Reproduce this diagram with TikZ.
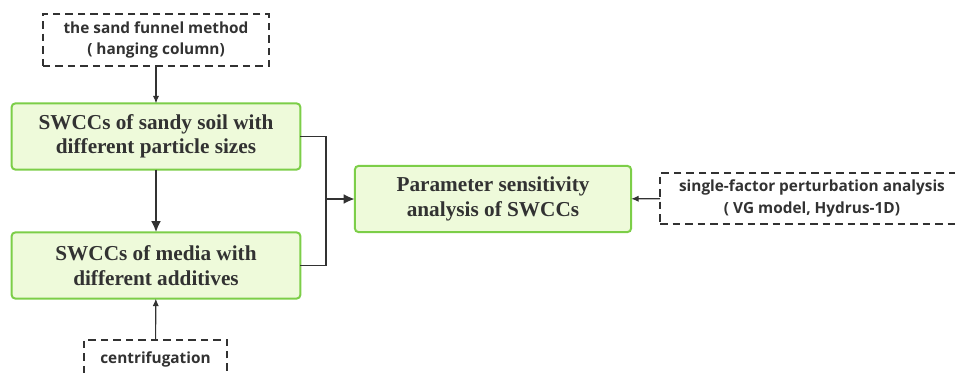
\documentclass[tikz,border=0pt]{standalone}
\usepackage{fontspec}
\setmainfont{Liberation Serif}
\newfontfamily\boxfont{Open Sans}
\usetikzlibrary{arrows.meta}
\definecolor{boxgreen}{RGB}{124,206,72}
\definecolor{boxfill}{RGB}{238,250,218}
\definecolor{linegray}{RGB}{50,50,50}

\begin{document}
\begin{tikzpicture}[x=0.8pt,y=-0.8pt,
  every node/.style={align=center, inner sep=0pt, outer sep=0pt},
  result/.style={draw=boxgreen, fill=boxfill, line width=1.6pt, rounded corners=3pt,
    minimum width=231pt, minimum height=53pt, font=\fontsize{17}{19.5}\selectfont\bfseries, text=linegray},
  method/.style={draw=linegray, dashed, dash pattern=on 6pt off 4pt, line width=1.4pt,
    font=\boxfont\bfseries\fontsize{12.3}{17}\selectfont, text=linegray},
  thin/.style={draw=linegray, line width=0.9pt, -{Latex[length=6pt,width=5pt]}},
  thick/.style={draw=linegray, line width=1.8pt, -{Latex[length=9pt,width=8pt]}}]
\useasboundingbox (0,0) rectangle (955,375);

\node[method, minimum width=181pt, minimum height=42pt] (sand) at (156,40) {the sand funnel method\\( hanging column)};
\node[result] (sandy) at (156,136.5) {SWCCs of sandy soil with\\different particle sizes};
\node[result] (media) at (156,265.5) {SWCCs of media with\\different additives};
\node[method, minimum width=114pt, minimum height=31pt] (centri) at (155.5,359) {centrifugation};
\node[result, minimum width=221pt] (param) at (493,199) {Parameter sensitivity\\analysis of SWCCs};
\node[method, minimum width=243pt, minimum height=41pt] (single) at (812,198.5) {single-factor perturbation analysis\\( VG model, Hydrus-1D)};

\coordinate (join) at (326,199);

\draw[thin] (sand) -- (sandy);
\draw[thick] (sandy) -- (media);
\draw[thin] (centri) -- (media);
\draw[draw=linegray, line width=1.4pt] (sandy.east) -| (join) |- (media.east);
\draw[thick] (join) -- (param);
\draw[thin] (single) -- (param);
\end{tikzpicture}
\end{document}
